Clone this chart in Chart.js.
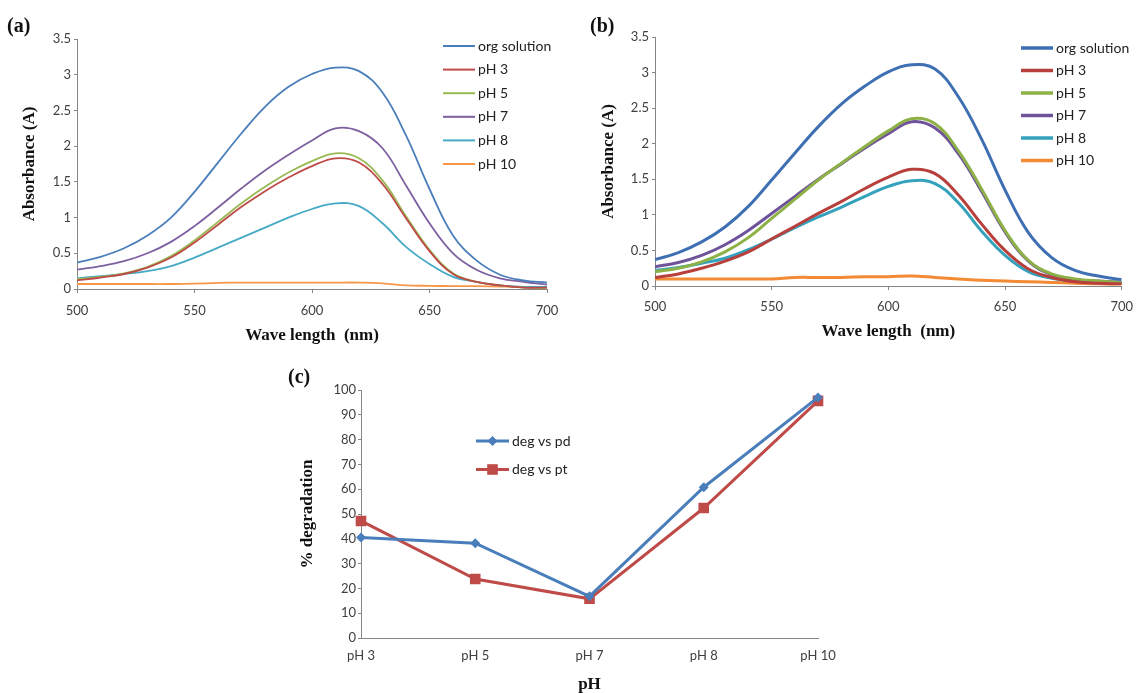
<!DOCTYPE html>
<html>
<head>
<meta charset="utf-8">
<title>Absorbance spectra and degradation vs pH</title>
<script src="https://cdn.jsdelivr.net/npm/chart.js@4.4.1/dist/chart.umd.min.js"></script>
<style>
  html, body { margin: 0; padding: 0; background: #fff; }
  body { width: 1142px; height: 693px; position: relative; overflow: hidden; }
  .panel { position: absolute; }
  .tag { position: absolute; font: bold 20px "Liberation Serif", "Times New Roman", serif; color: #111; line-height: 1; }
</style>
</head>
<body>

<div class="panel" style="left:0; top:0;"><canvas id="chartA" width="580" height="350"></canvas></div>
<div class="panel" style="left:580px; top:0;"><canvas id="chartB" width="562" height="350"></canvas></div>
<div class="panel" style="left:280px; top:360px;"><canvas id="chartC" width="580" height="333"></canvas></div>

<div class="tag" style="left:7px; top:15px;">(a)</div>
<div class="tag" style="left:590px; top:15px;">(b)</div>
<div class="tag" style="left:288px; top:366px;">(c)</div>

<script>
// ---- data ----------------------------------------------------------
const wavelengths = [500, 510, 520, 530, 540, 550, 560, 570, 580, 590, 600,
                     610, 620, 630, 640, 650, 660, 670, 680, 690, 700];
const seriesNames = ['org solution', 'pH 3', 'pH 5', 'pH 7', 'pH 8', 'pH 10'];

// panel (a) absorbance
const a_org  = [0.37, 0.45, 0.57, 0.75, 1.00, 1.36, 1.77, 2.18, 2.55, 2.83, 3.01, 3.10, 3.05, 2.75, 2.15, 1.40, 0.75, 0.40, 0.20, 0.12, 0.09];
const a_pH3  = [0.12, 0.16, 0.21, 0.30, 0.44, 0.65, 0.90, 1.15, 1.37, 1.56, 1.72, 1.83, 1.77, 1.47, 0.99, 0.53, 0.21, 0.10, 0.05, 0.02, 0.02];
const a_pH5  = [0.14, 0.17, 0.22, 0.31, 0.46, 0.68, 0.94, 1.20, 1.43, 1.63, 1.79, 1.90, 1.83, 1.52, 1.02, 0.55, 0.22, 0.10, 0.05, 0.02, 0.01];
const a_pH7  = [0.27, 0.32, 0.39, 0.50, 0.66, 0.88, 1.14, 1.41, 1.66, 1.88, 2.08, 2.25, 2.21, 1.97, 1.45, 0.92, 0.50, 0.27, 0.15, 0.10, 0.06];
const a_pH8  = [0.15, 0.18, 0.21, 0.25, 0.32, 0.44, 0.58, 0.72, 0.86, 1.00, 1.12, 1.20, 1.16, 0.92, 0.59, 0.35, 0.17, 0.10, 0.05, 0.03, 0.03];
const a_pH10 = [0.07, 0.07, 0.07, 0.07, 0.07, 0.075, 0.085, 0.09, 0.09, 0.09, 0.09, 0.09, 0.09, 0.08, 0.05, 0.045, 0.04, 0.04, 0.035, 0.03, 0.03];

// panel (b) absorbance
const b_org  = [0.37, 0.47, 0.62, 0.83, 1.12, 1.49, 1.87, 2.24, 2.56, 2.81, 3.01, 3.11, 3.05, 2.66, 2.06, 1.35, 0.75, 0.40, 0.22, 0.14, 0.09];
const b_pH3  = [0.12, 0.17, 0.25, 0.35, 0.48, 0.66, 0.84, 1.02, 1.19, 1.37, 1.53, 1.64, 1.58, 1.28, 0.87, 0.50, 0.24, 0.12, 0.06, 0.04, 0.03];
const b_pH5  = [0.20, 0.25, 0.34, 0.48, 0.68, 0.95, 1.22, 1.49, 1.73, 1.96, 2.18, 2.35, 2.28, 1.90, 1.36, 0.78, 0.36, 0.17, 0.10, 0.07, 0.05];
const b_pH7  = [0.27, 0.33, 0.43, 0.58, 0.78, 1.02, 1.26, 1.50, 1.72, 1.94, 2.14, 2.31, 2.22, 1.86, 1.33, 0.76, 0.35, 0.16, 0.09, 0.07, 0.05];
const b_pH8  = [0.22, 0.26, 0.32, 0.39, 0.51, 0.66, 0.82, 0.97, 1.11, 1.26, 1.40, 1.48, 1.44, 1.17, 0.77, 0.43, 0.20, 0.11, 0.07, 0.06, 0.05];
const b_pH10 = [0.10, 0.10, 0.10, 0.10, 0.10, 0.10, 0.12, 0.12, 0.12, 0.13, 0.13, 0.14, 0.12, 0.10, 0.08, 0.07, 0.06, 0.05, 0.04, 0.03, 0.03];

// panel (c) % degradation
const phLabels = ['pH 3', 'pH 5', 'pH 7', 'pH 8', 'pH 10'];
const degPd = [40.5, 38.2, 16.8, 60.8, 97.0];
const degPt = [47.2, 23.8, 15.8, 52.4, 95.6];

const absTicks = { min: 0, max: 3.5, step: 0.5 };
const wlTicks  = { min: 500, max: 700, step: 50 };
const degTicks = { min: 0, max: 100, step: 10 };

// ---- styling -------------------------------------------------------
const specColorsA = ['#4A7EBB', '#BE4B48', '#98B954', '#7D60A0', '#46AAC5', '#F79646'];
const specColorsB = ['#3F6FB3', '#B8403C', '#8DB146', '#6F539A', '#35A2BD', '#F38A34'];
const AXIS = '#868686';
const TICK_TEXT = '#404040';
const SANS = 'Lato, "Open Sans", sans-serif';
const SERIF = '"Liberation Serif", "Times New Roman", serif';

// legend drawn inside the plot area, one row per dataset
const insetLegend = {
  id: 'insetLegend',
  afterDatasetsDraw(chart, args, opts) {
    if (!opts || !opts.show) return;
    const ctx = chart.ctx;
    ctx.save();
    ctx.font = opts.font;
    ctx.textBaseline = 'middle';
    ctx.textAlign = 'left';
    chart.data.datasets.forEach((ds, i) => {
      const y = opts.y + i * opts.rowGap;
      ctx.strokeStyle = ds.borderColor;
      ctx.lineWidth = opts.lineWidth;
      ctx.beginPath();
      ctx.moveTo(opts.x, y);
      ctx.lineTo(opts.x + opts.len, y);
      ctx.stroke();
      if (opts.markers) {
        const cx = opts.x + opts.len / 2;
        const r = ds.pointRadius;
        ctx.fillStyle = ds.pointBackgroundColor;
        ctx.beginPath();
        if (ds.pointStyle === 'rectRot') {
          ctx.moveTo(cx, y - r); ctx.lineTo(cx + r, y); ctx.lineTo(cx, y + r); ctx.lineTo(cx - r, y);
          ctx.closePath();
        } else {
          const h = r * Math.SQRT1_2;
          ctx.rect(cx - h, y - h, 2 * h, 2 * h);
        }
        ctx.fill();
      }
      ctx.fillStyle = opts.color;
      ctx.fillText(ds.label, opts.x + opts.len + opts.gap, y);
    });
    ctx.restore();
  }
};

function axisStyle(tickPad, tickLen) {
  return {
    border: { color: AXIS, width: 1 },
    grid: { display: true, drawOnChartArea: false, drawTicks: true, tickLength: tickLen, color: AXIS },
    ticks: { color: TICK_TEXT, font: { family: SANS, size: 13 }, padding: tickPad, callback: v => String(v) }
  };
}

function spectrumChart(id, series, colors, lineW, geom, legend) {
  const datasets = series.map((vals, i) => ({
    label: seriesNames[i],
    data: wavelengths.map((w, k) => ({ x: w, y: vals[k] })),
    borderColor: colors[i],
    borderWidth: lineW,
    pointRadius: 0,
    fill: false,
    tension: 0.4
  }));
  const xs = axisStyle(geom.xTickPad, 4);
  const ys = axisStyle(3, 3);
  return new Chart(document.getElementById(id), {
    type: 'line',
    data: { datasets },
    options: {
      responsive: false,
      animation: false,
      layout: { padding: { left: 0, top: geom.top, right: geom.right, bottom: 0 } },
      plugins: { legend: { display: false }, tooltip: { enabled: false }, insetLegend: legend },
      scales: {
        x: {
          type: 'linear', min: wlTicks.min, max: wlTicks.max,
          border: xs.border, grid: xs.grid,
          ticks: Object.assign({}, xs.ticks, { stepSize: wlTicks.step }),
          title: { display: true, text: 'Wave length  (nm)', color: '#111',
                   font: { family: SERIF, size: 17, weight: 'bold' }, padding: { top: 0, bottom: geom.xTitlePad } },
          afterFit: s => { s.height = geom.xHeight; }
        },
        y: {
          type: 'linear', min: absTicks.min, max: absTicks.max,
          border: ys.border, grid: ys.grid,
          ticks: Object.assign({}, ys.ticks, { stepSize: absTicks.step }),
          title: { display: true, text: 'Absorbance (A)', color: '#111',
                   font: { family: SERIF, size: 17, weight: 'bold' }, padding: { top: geom.yTitlePad, bottom: 0 } },
          afterFit: s => { s.width = geom.yWidth; }
        }
      }
    },
    plugins: [insetLegend]
  });
}

// ---- panel (a) -----------------------------------------------------
spectrumChart('chartA', [a_org, a_pH3, a_pH5, a_pH7, a_pH8, a_pH10], specColorsA, 1.8,
  { top: 39, right: 33, xHeight: 61, yWidth: 77, xTickPad: 10, xTitlePad: 4, yTitlePad: 19 },
  { show: true, x: 443, y: 46, rowGap: 23.6, len: 32, gap: 3, lineWidth: 2,
    font: '14px ' + SANS, color: '#222' });

// ---- panel (b) -----------------------------------------------------
spectrumChart('chartB', [b_org, b_pH3, b_pH5, b_pH7, b_pH8, b_pH10], specColorsB, 3,
  { top: 37, right: 15, xHeight: 64, yWidth: 75, xTickPad: 9, xTitlePad: 8, yTitlePad: 18 },
  { show: true, x: 441, y: 48, rowGap: 22.5, len: 32, gap: 3, lineWidth: 3.5,
    font: '14px ' + SANS, color: '#222' });

// ---- panel (c) -----------------------------------------------------
(function () {
  const xs = axisStyle(10, 0);
  const ys = axisStyle(2, 3);
  new Chart(document.getElementById('chartC'), {
    type: 'line',
    data: {
      labels: phLabels,
      datasets: [
        { label: 'deg vs pd', data: degPd, borderColor: '#4A7EBB', borderWidth: 3,
          pointStyle: 'rectRot', pointRadius: 5, pointBackgroundColor: '#4A7EBB',
          pointBorderColor: '#4A7EBB', pointBorderWidth: 0, tension: 0 },
        { label: 'deg vs pt', data: degPt, borderColor: '#BE4B48', borderWidth: 3,
          pointStyle: 'rect', pointRadius: 7.5, pointBackgroundColor: '#BE4B48',
          pointBorderColor: '#BE4B48', pointBorderWidth: 0, tension: 0 }
      ]
    },
    options: {
      responsive: false,
      animation: false,
      layout: { padding: { left: 0, top: 30, right: 42, bottom: 0 } },
      plugins: {
        legend: { display: false }, tooltip: { enabled: false },
        insetLegend: { show: true, markers: true, x: 196, y: 81, rowGap: 28.5, len: 33, gap: 3,
                       lineWidth: 3, font: '14px ' + SANS, color: '#222' }
      },
      scales: {
        x: {
          type: 'category', offset: false,
          border: xs.border, grid: Object.assign({}, xs.grid, { offset: false, drawTicks: false }),
          ticks: Object.assign({}, xs.ticks, { callback: function (v) { return this.getLabelForValue(v); } }),
          title: { display: true, text: 'pH', color: '#111',
                   font: { family: SERIF, size: 17, weight: 'bold' }, padding: { top: 0, bottom: -2 } },
          afterFit: s => { s.height = 55; }
        },
        y: {
          min: degTicks.min, max: degTicks.max,
          border: ys.border, grid: ys.grid,
          ticks: Object.assign({}, ys.ticks, { stepSize: degTicks.step }),
          title: { display: true, text: '% degradation', color: '#111',
                   font: { family: SERIF, size: 17, weight: 'bold' }, padding: { top: 17, bottom: 0 } },
          afterFit: s => { s.width = 81; }
        }
      }
    },
    plugins: [insetLegend]
  });
})();
</script>
</body>
</html>
